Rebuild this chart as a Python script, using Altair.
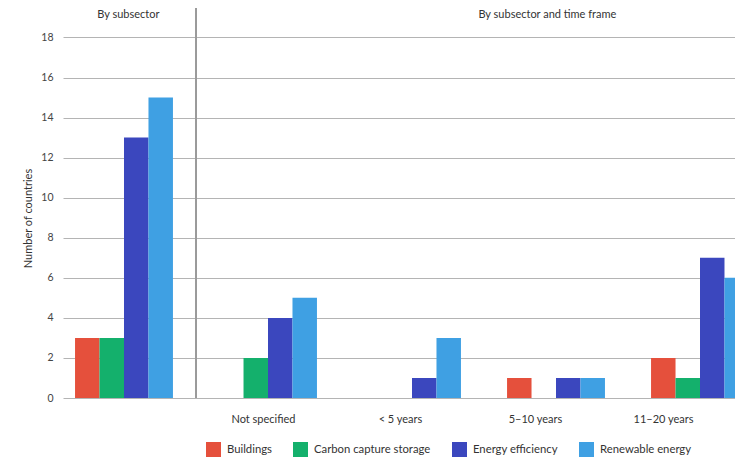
import json
import altair as alt
import pandas as pd

# ---- data ----
groups = ["By subsector", "Not specified", "< 5 years", "5–10 years", "11–20 years"]
series = ["Buildings", "Carbon capture storage", "Energy efficiency", "Renewable energy"]
buildings = [3, 0, 0, 1, 2]
carbon_capture = [3, 2, 0, 0, 1]
energy_efficiency = [13, 4, 1, 1, 7]
renewable_energy = [15, 5, 3, 1, 6]
colors = ["#E5503C", "#14B06C", "#3B47BE", "#3FA0E3"]
y_ticks = [0, 2, 4, 6, 8, 10, 12, 14, 16, 18]
headers = ["By subsector", "By subsector and time frame"]

BW = 0.17  # bar width in group units
YMAX = 19.47
rows = []
for si, (name, vals) in enumerate(zip(series, [buildings, carbon_capture, energy_efficiency, renewable_energy])):
    for gi, v in enumerate(vals):
        rows.append(dict(series=name, order=si, group=gi,
                         x=gi + (si - 2) * BW, x2=gi + (si - 1) * BW, value=v, base=0))
df = pd.DataFrame(rows)

FONT = "Lato"
TXT = "#333333"
xscale = alt.Scale(domain=[-0.4236, 4.243], nice=False, zero=False)
yscale = alt.Scale(domain=[0, YMAX], nice=False, zero=True)
label_expr = json.dumps(groups) + "[datum.value]"
# labels in the reference sit a little left of their groups
label_shift = {"condition": [{"test": "datum.value == 1", "value": -5},
                             {"test": "datum.value == 2", "value": -12},
                             {"test": "datum.value == 3", "value": -21}],
               "value": -37}

bars = alt.Chart(df).mark_bar(clip=True).encode(
    x=alt.X("x:Q", scale=xscale,
            axis=alt.Axis(values=[1, 2, 3, 4], labelExpr=label_expr, title=None,
                          grid=False, domain=False, ticks=False, labelPadding=15,
                          labelOffset=label_shift,
                          labelFontSize=11, labelFont=FONT, labelColor=TXT)),
    x2="x2:Q",
    y=alt.Y("value:Q", scale=yscale,
            axis=alt.Axis(values=y_ticks, title="Number of countries", grid=True,
                          gridColor="#b4b4b4", gridWidth=1, domain=False, ticks=False,
                          labelPadding=10, labelFontSize=10.5, labelFont=FONT,
                          labelColor="#444444", titleFont=FONT, titleFontSize=11,
                          titleFontWeight="normal", titleColor=TXT, titlePadding=7,
                          titleY=210)),
    y2="base:Q",
    color=alt.Color("series:N", sort=series,
                    scale=alt.Scale(domain=series, range=colors),
                    legend=alt.Legend(orient="none", legendX=143, legendY=434,
                                      direction="horizontal", title=None,
                                      symbolType="square", symbolSize=225,
                                      symbolStrokeWidth=0, symbolOpacity=1,
                                      labelFontSize=11.3, labelFont=FONT,
                                      labelColor=TXT, columnPadding=21,
                                      labelOffset=6)),
)

sep = alt.Chart(df).mark_rule(color="#9a9a9a", strokeWidth=1).encode(
    x=alt.datum(0.5, scale=xscale),
    y=alt.datum(0, scale=yscale),
    y2=alt.datum(YMAX),
)

head_df = pd.DataFrame({"label": headers, "pos": [0.03, 2.94]})
head = alt.Chart(head_df).mark_text(font=FONT, fontSize=11, color=TXT, baseline="middle").encode(
    x=alt.X("pos:Q", scale=xscale),
    y=alt.datum(19.1),
    text="label:N",
)

chart = alt.layer(bars, sep, head).properties(
    width=672, height=390,
    autosize=alt.AutoSizeParams(type="none"),
    padding={"left": 55, "top": 0, "right": 0, "bottom": 59},
).configure(font=FONT).configure_view(stroke=None)

chart.save("out.html", embed_options={"renderer": "svg", "actions": False})
